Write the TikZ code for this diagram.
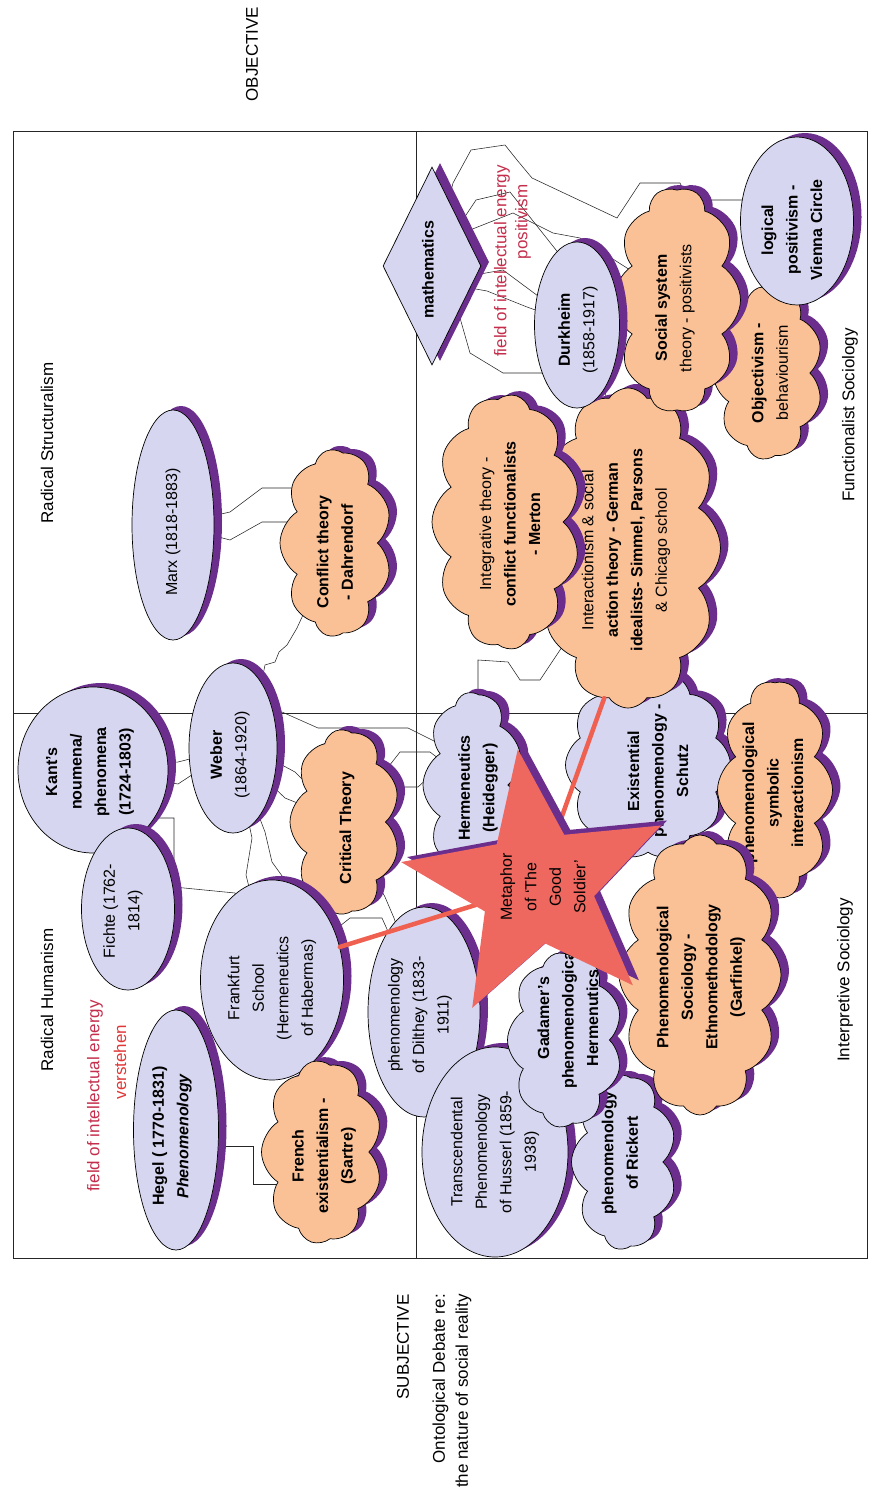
\documentclass[tikz,border=0pt]{standalone}
\usepackage{fontspec}
\setmainfont{Liberation Sans}
\usetikzlibrary{shapes.geometric,shapes.symbols,backgrounds}
\definecolor{lav}{RGB}{214,214,240}
\definecolor{peach}{RGB}{250,192,150}
\definecolor{shp}{RGB}{108,46,140}
\definecolor{starred}{RGB}{238,104,96}
\definecolor{redl}{RGB}{240,96,80}
\definecolor{fieldred}{RGB}{196,46,76}
\definecolor{vred}{RGB}{224,56,56}
\newcommand\nodefont{\fontsize{16}{24.5}\selectfont}
\newcommand\labfont{\fontsize{17}{23}\selectfont}
\newcommand\B[1]{\textbf{#1}}
% style, name, x, y, width (page), height (page), text x, text y, text
\newcommand\blob[9]{%
  \node[#1, fill=shp, draw=none, minimum width=#6pt, minimum height=#5pt] (#2-s) at (#3+8,#4-4) {};
  \node[#1, minimum width=#6pt, minimum height=#5pt] (#2) at (#3,#4) {};
  \node[txt] (#2-t) at (#7,#8) {#9};}
\begin{document}
\begin{tikzpicture}[x=1pt,y=-1pt,
  txt/.style={rotate=90, align=center, font=\nodefont, inner sep=0pt},
  lbl/.style={rotate=90, font=\labfont, inner sep=0pt},
  el/.style={ellipse, draw=black, line width=0.7pt, fill=lav, rotate=90, inner sep=0pt},
  cl/.style={cloud, cloud puffs=10, cloud puff arc=115, cloud ignores aspect, draw=black, line width=0.7pt, rotate=90, inner sep=0pt},
  lavcl/.style={cl, fill=lav},
  orcl/.style={cl, fill=peach},
  conn/.style={draw=black!85, line width=0.55pt},
  redline/.style={draw=redl, line width=4.5pt, line cap=round},
  framel/.style={draw=black!85, line width=0.9pt},
  starshape/.style={star, star points=5, star point ratio=2.38, minimum size=276pt, inner sep=0pt, rotate=80}]
\useasboundingbox (0,0) rectangle (869,1495);

% ---------- Radical structuralism / humanism ----------
\blob{el}{marx}{173}{525}{82}{230}{173}{532}{Marx (1818-1883)}
\blob{orcl, cloud puffs=9}{conflict}{336}{543}{112}{187}{335}{552}{\B{Conflict theory}\\\B{- Dahrendorf}}
\blob{el}{weber}{233}{748}{88}{170}{230}{755}{\B{Weber}\\(1864-1920)}
\blob{el}{kant}{93}{770}{150}{166}{90}{772}{\B{Kant's}\\\B{noumena/}\\\B{phenomena}\\\B{(1724-1803)}}
\blob{el}{fichte}{128}{909}{93}{162}{123}{911}{Fichte (1762-\\1814)}
\blob{orcl, cloud puffs=9}{critical}{345}{822}{110}{185}{347}{828}{\B{Critical Theory}}
\blob{el}{frankfurt}{272}{980}{143}{200}{272}{988}{Frankfurt\\School\\(Hermeneutics\\of Habermas)}
\blob{el}{hegel}{176}{1130}{85}{240}{172}{1136}{\B{Hegel ( 1770-1831)}\\\textbf{\textit{Phenomenology}}}
\blob{orcl, cloud puffs=9}{french}{322}{1152}{121}{183}{324}{1156}{\B{French}\\\B{existentialism -}\\\B{(Sartre)}}

% ---------- Functionalist ----------
\blob{lavcl}{schutz}{648}{765}{165}{190}{658}{771}{\B{Existential}\\\B{phenomenology -}\\\B{Schutz}}
\blob{orcl, cloud puffs=12}{interact}{628}{548}{185}{320}{626}{550}{Interactionism \& social\\\B{action theory - German}\\\B{idealists- Simmel, Parsons}\\\& Chicago school}
\blob{orcl, cloud puffs=11}{integrative}{506}{522}{148}{255}{510}{524}{Integrative theory -\\\B{conflict functionalists}\\\B{- Merton}}
\blob{orcl, cloud puffs=9}{objectiv}{768}{373}{110}{173}{770}{373}{\B{Objectivism -}\\behaviourism}
\blob{orcl}{social}{677}{300}{127}{225}{675}{308}{\B{Social system}\\theory - positivists}
\blob{el}{logical}{797}{221}{113}{168}{792}{230}{\B{logical}\\\B{positivism -}\\\B{Vienna Circle}}
\blob{el}{durkheim}{577}{325}{85}{166}{578}{330}{\B{Durkheim}\\(1858-1917)}
\node[diamond, fill=shp, inner sep=0pt, minimum width=98pt, minimum height=198pt] (math-s) at (440,262) {};
\node[diamond, draw=black, line width=0.7pt, fill=lav, inner sep=0pt, minimum width=98pt, minimum height=198pt] (math) at (432,266) {};
\node[txt] (math-t) at (428,270) {\B{mathematics}};

% ---------- Interpretive ----------
\blob{lavcl, cloud puffs=9}{herm}{473}{785}{100}{185}{478}{788}{\B{Hermeneutics}\\\B{(Heidegger)}}
\blob{orcl}{symbolic}{775}{790}{115}{218}{773}{793}{\B{phenomenological}\\\B{symbolic}\\\B{interactionism}}
\blob{el}{dilthey}{424}{1012}{112}{210}{420}{1015}{phenomenology\\of Dilthey (1833-\\1911)}
\blob{el}{husserl}{495}{1152}{146}{210}{495}{1152}{Transcendental\\Phenomenology\\of Husserl (1859-\\1938)}
\blob{lavcl, cloud puffs=9}{rickert}{624}{1162}{105}{175}{620}{1153}{\B{phenomenology}\\\B{of Rickert}}
\blob{lavcl, cloud puffs=9}{gadamer}{565}{1040}{115}{175}{568}{1018}{\B{Gadamer's}\\\B{phenomenological}\\\B{Hermenutics}}
\blob{orcl, cloud puffs=12}{garfinkel}{700}{975}{162}{280}{701}{977}{\B{Phenomenological}\\\B{Sociology -}\\\B{Ethnomethodology}\\\B{(Garfinkel)}}

% ---------- red links and star ----------
\draw[redline] (frankfurt.-64) -- (537,886);
\draw[redline] (interact.171) -- (537,886);
\node[starshape, fill=shp] (star-s) at (543,881) {};
\node[starshape, fill=starred] (star) at (537,886) {};
\node[txt] (star-t) at (543,887) {Metaphor\\of `The\\Good\\Soldier'};

% ---------- labels ----------
\node[lbl] (obj) at (252,54) {OBJECTIVE};
\node[lbl] (subj) at (403,1347) {SUBJECTIVE};
\node[lbl, align=right] (onto) at (452,1391) {Ontological Debate re:\\the nature of social reality};
\node[lbl] (rs) at (47,443) {Radical Structuralism};
\node[lbl] (rh) at (47,1000) {Radical Humanism};
\node[lbl] (fs) at (850,415) {Functionalist Sociology};
\node[lbl] (is) at (845,980) {Interpretive Sociology};
\node[lbl, text=fieldred] (fl1) at (95,1096) {field of intellectual energy};
\node[lbl, text=vred] (fl2) at (120,1062) {verstehen};
\node[lbl, text=fieldred] (fr1) at (502,261) {field of intellectual energy};
\node[lbl, text=fieldred] (fr2) at (523,222) {positivism};

% ---------- frame and connectors (behind) ----------
\begin{scope}[on background layer]
  \draw[framel] (13,131) rectangle (867,1258);
  \draw[framel] (416,131) -- (416,1258);
  \draw[framel] (13,713) -- (867,713);
  \draw[conn] (marx.center) -- (230,512) -- (262,488) -- (300,488) -- (conflict.center);
  \draw[conn] (marx.center) -- (230,540) -- (262,522) -- (300,522) -- (conflict.center);
  \draw[conn] (conflict.center) -- (297,628) -- (287,645) -- (279,652) -- (275,662) -- (265,665) -- (262,680) -- (weber.center);
  \draw[conn] (kant.center) -- (178,762) -- (weber.center);
  \draw[conn] (kant.center) -- (178,784) -- (weber.center);
  \draw[conn] (kant.center) -- (155,818) -- (174,818) -- (174,887) -- (235,893) -- (frankfurt.center);
  \draw[conn] (weber.center) -- (252,838) -- (246,875) -- (frankfurt.center);
  \draw[conn] (weber.center) -- (265,832) -- (272,862) -- (285,880) -- (frankfurt.center);
  \draw[conn] (weber.center) -- (282,765) -- (295,772) -- (critical.center);
  \draw[conn] (weber.center) -- (285,798) -- (critical.center);
  \draw[conn] (weber.center) -- (282,712) -- (318,728) -- (408,728) -- (436,742) -- (herm.center);
  \draw[conn] (critical.center) -- (398,787) -- (418,787) -- (430,776) -- (herm.center);
  \draw[conn] (critical.center) -- (400,752) -- (430,752) -- (herm.center);
  \draw[conn] (critical.center) -- (385,897) -- (394,918) -- (dilthey.center);
  \draw[conn] (frankfurt.center) -- (350,918) -- (382,918) -- (dilthey.center);
  \draw[conn] (hegel.center |- 0,1146) -- (253,1146) -- (253,1184) -- (french.center |- 0,1184);
  \draw[conn] (math.center) -- (453,183) -- (471,150) -- (505,145) -- (517,160) -- (532,178) -- (617,218) -- (640,183) -- (680,183) -- (688,200) -- (logical.center |- 0,200);
  \draw[conn] (math.center) -- (470,230) -- (513,213) -- (553,233) -- (580,238) -- (social.center);
  \draw[conn] (math.center) -- (476,200) -- (510,192) -- (560,255) -- (durkheim.center);
  \draw[conn] (math.center) -- (463,277) -- (503,270) -- (durkheim.center);
  \draw[conn] (math.center) -- (470,288) -- (487,291) -- (527,307) -- (durkheim.center);
  \draw[conn] (math.center) -- (460,318) -- (470,353) -- (503,373) -- (durkheim.center |- 0,373);
  \draw[conn] (durkheim.center) -- (605,390) -- (interact.center);
  \draw[conn] (interact.center) -- (540,680) -- (520,680) -- (508,662) -- (478,660) -- (478,690) -- (herm.center);
\end{scope}
\end{tikzpicture}
\end{document}
